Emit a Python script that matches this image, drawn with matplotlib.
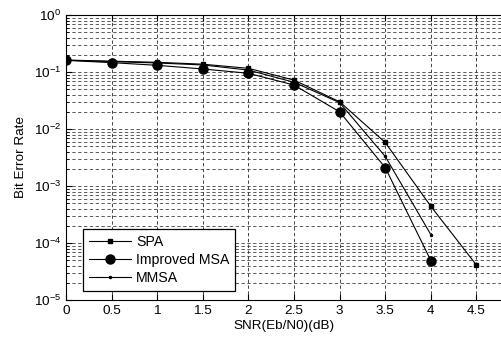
import numpy as np
import matplotlib
matplotlib.use('Agg')
import matplotlib.pyplot as plt
from matplotlib.ticker import LogLocator, NullFormatter

plt.rcParams['font.family'] = ['Liberation Sans', 'DejaVu Sans']
plt.rcParams['mathtext.default'] = 'regular'

# data
snr_spa = [0, 0.5, 1, 1.5, 2, 2.5, 3, 3.5, 4, 4.5]
ber_spa = [0.162, 0.155, 0.148, 0.137, 0.116, 0.072, 0.030, 0.0058, 4.4e-4, 4.1e-5]

snr_msa = [0, 0.5, 1, 1.5, 2, 2.5, 3, 3.5, 4]
ber_msa = [0.160, 0.146, 0.131, 0.113, 0.095, 0.059, 0.020, 0.0021, 4.9e-5]

snr_mmsa = [0, 0.5, 1, 1.5, 2, 2.5, 3, 3.5, 4]
ber_mmsa = [0.161, 0.152, 0.144, 0.133, 0.108, 0.066, 0.029, 0.0033, 1.4e-4]

xticks = [0, 0.5, 1, 1.5, 2, 2.5, 3, 3.5, 4, 4.5]
xticklabels = ['0', '0.5', '1', '1.5', '2', '2.5', '3', '3.5', '4', '4.5']

fig = plt.figure(figsize=(5.02, 3.38), dpi=100)
ax = fig.add_axes([66 / 502, 1 - 300 / 338, 1 - 66 / 502, 285 / 338])

ax.semilogy(snr_spa, ber_spa, 'k-', marker='s', markersize=3.5, linewidth=0.8, label='SPA')
ax.semilogy(snr_msa, ber_msa, 'k-', marker='o', markersize=6.5, linewidth=0.8, label='Improved MSA')
ax.semilogy(snr_mmsa, ber_mmsa, 'k-', marker='.', markersize=3, linewidth=0.8, label='MMSA')

ax.set_xlim(0, 4.78)
ax.set_ylim(1e-5, 1)
ax.set_xticks(xticks)
ax.set_xticklabels(xticklabels)
ax.yaxis.set_major_locator(LogLocator(base=10, numticks=10))
ax.yaxis.set_minor_locator(LogLocator(base=10, subs=np.arange(2, 10), numticks=10))
ax.yaxis.set_minor_formatter(NullFormatter())

ax.tick_params(which='both', direction='in', labelsize=9.7, top=True)
ax.tick_params(which='major', length=4)
ax.tick_params(which='minor', length=2)

ax.grid(True, which='major', axis='x', color='0.15', linestyle=(0, (4, 3)), linewidth=0.6)
ax.grid(True, which='both', axis='y', color='0.25', linestyle=(0, (4, 3)), linewidth=0.6)
ax.spines['right'].set_visible(False)

ax.set_xlabel('SNR(Eb/N0)(dB)', fontsize=9.7, labelpad=2)
ax.set_ylabel('Bit Error Rate', fontsize=9.7, labelpad=5)

leg = ax.legend(loc='lower left', bbox_to_anchor=(83 / 502, 1 - 291 / 338),
                bbox_transform=fig.transFigure, borderaxespad=0, fontsize=10.2,
                fancybox=False, framealpha=1, edgecolor='black',
                handlelength=3.0, handletextpad=0.35, labelspacing=0.3, borderpad=0.4)
leg.get_frame().set_linewidth(0.9)

fig.savefig('out.png', dpi=100)
